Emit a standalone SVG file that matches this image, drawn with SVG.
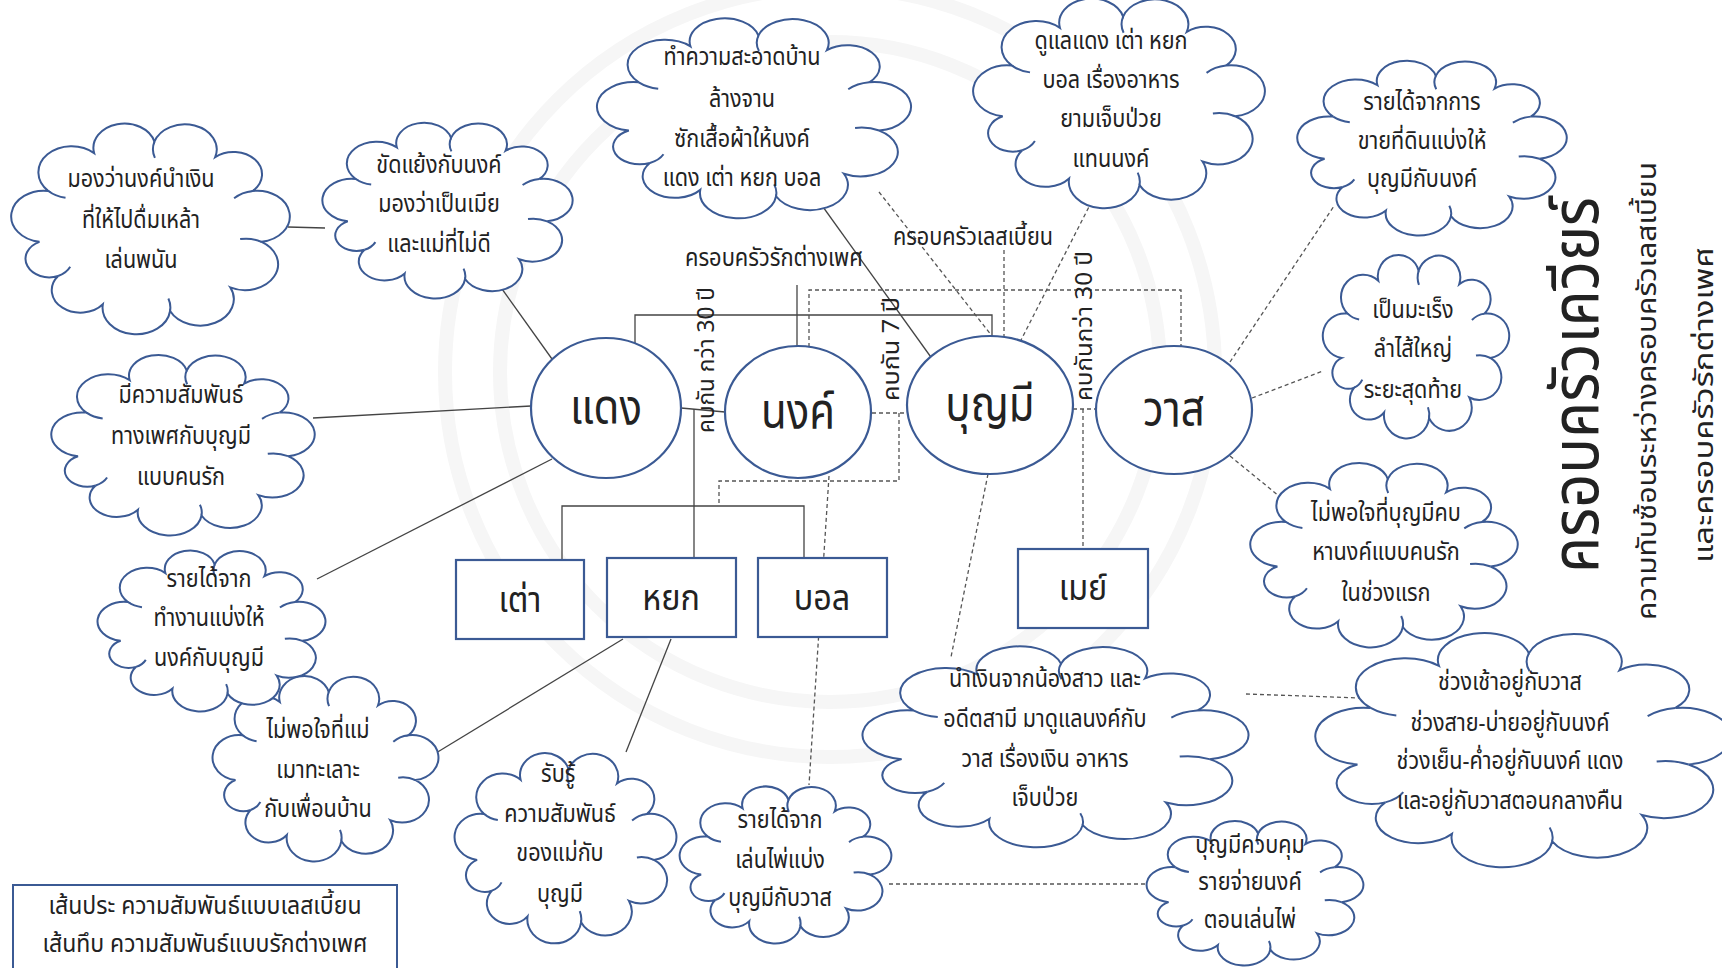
<svg xmlns="http://www.w3.org/2000/svg" width="1722" height="968" viewBox="0 0 1722 968">
<style>
.cl{fill:#fff;stroke:#3b5a94;stroke-width:2}
.ci{fill:none;stroke:#3b5a94;stroke-width:2}
.nd{fill:#fff;stroke:#3b5a94;stroke-width:2.2}
.t{font-family:"Noto Sans Thai","Loma","Garuda","Noto Sans","DejaVu Sans",sans-serif;fill:#222;text-anchor:middle}
.s{font-size:24px}
.b{font-size:50px}
.r{font-size:36px}
.ln{fill:none;stroke:#444;stroke-width:1.3}
.ds{fill:none;stroke:#555;stroke-width:1.3;stroke-dasharray:4 3}
.wm{fill:none;stroke:#f6f6f6;stroke-width:14}
</style>
<defs>
<path id="cloud" vector-effect="non-scaling-stroke" d="M9.62 56.86 A11.88 11.88 0 0 1 12.84 33.31 A12.09 12.09 0 0 1 29.5 15.79 A11.28 11.28 0 0 1 51.43 10.52 A11.6 11.6 0 0 1 73.52 17.64 A10.39 10.39 0 0 1 87.16 33.31 A11.88 11.88 0 0 1 90.38 56.86 A11.98 11.98 0 0 1 78.99 77.93 A12.23 12.23 0 0 1 57.12 88.9 A12.32 12.32 0 0 1 32.67 85.8 A10.45 10.45 0 0 1 16.41 72.66 A8.6 8.6 0 0 1 9.62 56.86 Z"/>
<path id="cloudIn" vector-effect="non-scaling-stroke" d="M90.38 56.86 A11.98 11.98 0 0 0 82.6 55.6 M57.12 88.9 A12.32 12.32 0 0 0 56.5 83.1 M16.41 72.66 A8.6 8.6 0 0 0 20.8 68.4 M51.43 10.52 A11.6 11.6 0 0 0 51.6 18 M12.84 33.31 A12.09 12.09 0 0 0 19.1 36.45 M87.16 33.31 A11.88 11.88 0 0 0 80.4 36.7"/>
</defs>
<rect width="1722" height="968" fill="#fff"/>
<g id="watermark">
<circle class="wm" cx="830" cy="372" r="385"/>
<circle class="wm" cx="830" cy="372" r="330" stroke-width="5"/>
</g>
<g id="connectors">
<line class="ln" x1="288" y1="227" x2="325" y2="228"/>
<line class="ln" x1="492" y1="275" x2="552" y2="359"/>
<line class="ln" x1="313" y1="418" x2="531" y2="406"/>
<line class="ln" x1="317" y1="579" x2="552" y2="459"/>
<line class="ln" x1="623" y1="639" x2="436" y2="753"/>
<line class="ln" x1="671" y1="639" x2="626" y2="752"/>
<line class="ln" x1="813" y1="193" x2="933" y2="360"/>
<polyline class="ln" points="635,344 635,315 992,315 992,336"/>
<line class="ln" x1="797" y1="285" x2="797" y2="346"/>
<line class="ln" x1="681" y1="408" x2="725" y2="412"/>
<line class="ln" x1="694" y1="409" x2="694" y2="558"/>
<polyline class="ln" points="562,560 562,506 804,506 804,558"/>
<polyline class="ds" points="809,347 809,290 1181,290 1181,347"/>
<line class="ds" x1="879" y1="192" x2="992" y2="336"/>
<line class="ds" x1="1095" y1="195" x2="1019" y2="344"/>
<line class="ds" x1="1004" y1="250" x2="1004" y2="337"/>
<line class="ds" x1="872" y1="413" x2="907" y2="413"/>
<polyline class="ds" points="899,413 899,481 719,481 719,506"/>
<line class="ds" x1="1073" y1="409" x2="1096" y2="409"/>
<line class="ds" x1="1083" y1="409" x2="1083" y2="549"/>
<line class="ds" x1="829" y1="476" x2="809" y2="785"/>
<line class="ds" x1="988" y1="474" x2="951" y2="657"/>
<line class="ds" x1="1230" y1="362" x2="1334" y2="206"/>
<line class="ds" x1="1252" y1="398" x2="1323" y2="371"/>
<line class="ds" x1="1230" y1="456" x2="1290" y2="505"/>
<line class="ds" x1="1246" y1="694" x2="1360" y2="698"/>
<line class="ds" x1="889" y1="884" x2="1148" y2="884"/>
</g>
<g id="labels" class="t">
<text x="774" y="266" style="font-size:24px" textLength="178" lengthAdjust="spacingAndGlyphs">ครอบครัวรักต่างเพศ</text>
<text x="973" y="245" style="font-size:24px" textLength="160" lengthAdjust="spacingAndGlyphs">ครอบครัวเลสเบี้ยน</text>
<text transform="translate(714 360) rotate(-90)" style="font-size:23px" textLength="146" lengthAdjust="spacingAndGlyphs" x="-73" text-anchor="start">คบกัน กว่า 30 ปี</text>
<text transform="translate(899 349) rotate(-90)" style="font-size:23px" textLength="104" lengthAdjust="spacingAndGlyphs" x="-52" text-anchor="start">คบกัน 7 ปี</text>
<text transform="translate(1092 326) rotate(-90)" style="font-size:23px" textLength="150" lengthAdjust="spacingAndGlyphs" x="-75" text-anchor="start">คบกันกว่า 30 ปี</text>
</g>
<g id="title" class="t">
<text transform="translate(1598 385) rotate(-90)" style="font-size:66px" x="-188" text-anchor="start" textLength="376" lengthAdjust="spacingAndGlyphs">ครอบครัวเควียร์</text>
<text transform="translate(1656 391) rotate(-90)" style="font-size:27px" x="-229" text-anchor="start" textLength="458" lengthAdjust="spacingAndGlyphs">ความทับซ้อนระหว่างครอบครัวเลสเบี้ยน</text>
<text transform="translate(1713 405) rotate(-90)" style="font-size:27px" x="-158" text-anchor="start" textLength="316" lengthAdjust="spacingAndGlyphs">และครอบครัวรักต่างเพศ</text>
</g>
<g id="node-daeng"><ellipse class="nd" cx="606" cy="408" rx="75" ry="70"/><text class="t b" transform="matrix(0.84 0 0 1 97 0)" x="606" y="424">แดง</text></g>
<g id="node-nong"><ellipse class="nd" cx="798" cy="412" rx="73" ry="66"/><text class="t b" transform="matrix(0.84 0 0 1 127.7 0)" x="798" y="428">นงค์</text></g>
<g id="node-boonmee"><ellipse class="nd" cx="990" cy="405" rx="83" ry="69"/><text class="t b" transform="matrix(0.84 0 0 1 158.4 0)" x="990" y="421">บุญมี</text></g>
<g id="node-was"><ellipse class="nd" cx="1174" cy="410" rx="78" ry="64"/><text class="t b" transform="matrix(0.84 0 0 1 187.8 0)" x="1174" y="426">วาส</text></g>
<g id="node-tao"><rect class="nd" x="456" y="560" width="128" height="79"/><text class="t r" transform="matrix(0.9 0 0 1 52 0)" x="520" y="612">เต่า</text></g>
<g id="node-yok"><rect class="nd" x="607" y="558" width="129" height="79"/><text class="t r" transform="matrix(0.9 0 0 1 67.1 0)" x="671" y="610">หยก</text></g>
<g id="node-ball"><rect class="nd" x="758" y="558" width="129" height="79"/><text class="t r" transform="matrix(0.9 0 0 1 82.2 0)" x="822" y="610">บอล</text></g>
<g id="node-may"><rect class="nd" x="1018" y="549" width="130" height="79"/><text class="t r" transform="matrix(0.9 0 0 1 108.3 0)" x="1083" y="600">เมย์</text></g>
<g id="cloud1"><use href="#cloud" class="cl" transform="translate(13 119) scale(2.75 2.16)"/><use href="#cloudIn" class="ci" transform="translate(13 119) scale(2.75 2.16)"/>
<text class="t s" transform="matrix(0.9 0 0 1 14.1 0)"><tspan x="141" y="187">มองว่านงค์นำเงิน</tspan><tspan x="141" y="228">ที่ให้ไปดื่มเหล้า</tspan><tspan x="141" y="268">เล่นพนัน</tspan></text></g>
<g id="cloud2"><use href="#cloud" class="cl" transform="translate(324 119) scale(2.47 1.8)"/><use href="#cloudIn" class="ci" transform="translate(324 119) scale(2.47 1.8)"/>
<text class="t s" transform="matrix(0.9 0 0 1 43.9 0)"><tspan x="439" y="173">ขัดแย้งกับนงค์</tspan><tspan x="439" y="212">มองว่าเป็นเมีย</tspan><tspan x="439" y="252">และแม่ที่ไม่ดี</tspan></text></g>
<g id="cloud3"><use href="#cloud" class="cl" transform="translate(599 14) scale(3.1 2.05)"/><use href="#cloudIn" class="ci" transform="translate(599 14) scale(3.1 2.05)"/>
<text class="t s" transform="matrix(0.9 0 0 1 74.2 0)"><tspan x="742" y="65">ทำความสะอาดบ้าน</tspan><tspan x="742" y="107">ล้างจาน</tspan><tspan x="742" y="147">ซักเสื้อผ้าให้นงค์</tspan><tspan x="742" y="186">แดง เต่า หยก บอล</tspan></text></g>
<g id="cloud4"><use href="#cloud" class="cl" transform="translate(975 -6) scale(2.88 2.15)"/><use href="#cloudIn" class="ci" transform="translate(975 -6) scale(2.88 2.15)"/>
<text class="t s" transform="matrix(0.9 0 0 1 111.1 0)"><tspan x="1111" y="49">ดูแลแดง เต่า หยก</tspan><tspan x="1111" y="88">บอล เรื่องอาหาร</tspan><tspan x="1111" y="127">ยามเจ็บป่วย</tspan><tspan x="1111" y="167">แทนนงค์</tspan></text></g>
<g id="cloud5"><use href="#cloud" class="cl" transform="translate(1299 57) scale(2.66 1.79)"/><use href="#cloudIn" class="ci" transform="translate(1299 57) scale(2.66 1.79)"/>
<text class="t s" transform="matrix(0.9 0 0 1 142.2 0)"><tspan x="1422" y="110">รายได้จากการ</tspan><tspan x="1422" y="149">ขายที่ดินแบ่งให้</tspan><tspan x="1422" y="187">บุญมีกับนงค์</tspan></text></g>
<g id="cloud6"><use href="#cloud" class="cl" transform="translate(1324 251) scale(1.84 1.88)"/><use href="#cloudIn" class="ci" transform="translate(1324 251) scale(1.84 1.88)"/>
<text class="t s" transform="matrix(0.9 0 0 1 141.3 0)"><tspan x="1413" y="318">เป็นมะเร็ง</tspan><tspan x="1413" y="357">ลำไส้ใหญ่</tspan><tspan x="1413" y="398">ระยะสุดท้าย</tspan></text></g>
<g id="cloud7"><use href="#cloud" class="cl" transform="translate(1252 459) scale(2.64 1.89)"/><use href="#cloudIn" class="ci" transform="translate(1252 459) scale(2.64 1.89)"/>
<text class="t s" transform="matrix(0.9 0 0 1 138.6 0)"><tspan x="1386" y="521">ไม่พอใจที่บุญมีคบ</tspan><tspan x="1386" y="560">หานงค์แบบคนรัก</tspan><tspan x="1386" y="601">ในช่วงแรก</tspan></text></g>
<g id="cloud8"><use href="#cloud" class="cl" transform="translate(1318 628) scale(4.1 2.4)"/><use href="#cloudIn" class="ci" transform="translate(1318 628) scale(4.1 2.4)"/>
<text class="t s" transform="matrix(0.9 0 0 1 151 0)"><tspan x="1510" y="690">ช่วงเช้าอยู่กับวาส</tspan><tspan x="1510" y="731">ช่วงสาย-บ่ายอยู่กับนงค์</tspan><tspan x="1510" y="769">ช่วงเย็น-ค่ำอยู่กับนงค์ แดง</tspan><tspan x="1510" y="809">และอยู่กับวาสตอนกลางคืน</tspan></text></g>
<g id="cloud9"><use href="#cloud" class="cl" transform="translate(865 642) scale(3.81 2.06)"/><use href="#cloudIn" class="ci" transform="translate(865 642) scale(3.81 2.06)"/>
<text class="t s" transform="matrix(0.9 0 0 1 104.5 0)"><tspan x="1045" y="687">นำเงินจากน้องสาว และ</tspan><tspan x="1045" y="727">อดีตสามี มาดูแลนงค์กับ</tspan><tspan x="1045" y="767">วาส  เรื่องเงิน อาหาร</tspan><tspan x="1045" y="806">เจ็บป่วย</tspan></text></g>
<g id="cloud10"><use href="#cloud" class="cl" transform="translate(1148 818) scale(2.14 1.48)"/><use href="#cloudIn" class="ci" transform="translate(1148 818) scale(2.14 1.48)"/>
<text class="t s" transform="matrix(0.9 0 0 1 125 0)"><tspan x="1250" y="853">บุญมีควบคุม</tspan><tspan x="1250" y="890">รายจ่ายนงค์</tspan><tspan x="1250" y="928">ตอนเล่นไพ่</tspan></text></g>
<g id="cloud11"><use href="#cloud" class="cl" transform="translate(681 783) scale(2.09 1.61)"/><use href="#cloudIn" class="ci" transform="translate(681 783) scale(2.09 1.61)"/>
<text class="t s" transform="matrix(0.9 0 0 1 78 0)"><tspan x="780" y="828">รายได้จาก</tspan><tspan x="780" y="868">เล่นไพ่แบ่ง</tspan><tspan x="780" y="906">บุญมีกับวาส</tspan></text></g>
<g id="cloud12"><use href="#cloud" class="cl" transform="translate(456 749) scale(2.19 1.95)"/><use href="#cloudIn" class="ci" transform="translate(456 749) scale(2.19 1.95)"/>
<text class="t s" transform="matrix(0.9 0 0 1 56 0)"><tspan x="558" y="782">รับรู้</tspan><tspan x="560" y="822">ความสัมพันธ์</tspan><tspan x="560" y="861">ของแม่กับ</tspan><tspan x="560" y="902">บุญมี</tspan></text></g>
<g id="cloud13"><use href="#cloud" class="cl" transform="translate(214 672) scale(2.23 1.9)"/><use href="#cloudIn" class="ci" transform="translate(214 672) scale(2.23 1.9)"/>
<text class="t s" transform="matrix(0.9 0 0 1 31.8 0)"><tspan x="318" y="738">ไม่พอใจที่แม่</tspan><tspan x="318" y="778">เมาทะเลาะ</tspan><tspan x="318" y="817">กับเพื่อนบ้าน</tspan></text></g>
<g id="cloud14"><use href="#cloud" class="cl" transform="translate(99 547) scale(2.25 1.65)"/><use href="#cloudIn" class="ci" transform="translate(99 547) scale(2.25 1.65)"/>
<text class="t s" transform="matrix(0.9 0 0 1 20.9 0)"><tspan x="209" y="587">รายได้จาก</tspan><tspan x="209" y="626">ทำงานแบ่งให้</tspan><tspan x="209" y="666">นงค์กับบุญมี</tspan></text></g>
<g id="cloud15"><use href="#cloud" class="cl" transform="translate(53 351) scale(2.6 1.85)"/><use href="#cloudIn" class="ci" transform="translate(53 351) scale(2.6 1.85)"/>
<text class="t s" transform="matrix(0.9 0 0 1 18.1 0)"><tspan x="181" y="403">มีความสัมพันธ์</tspan><tspan x="181" y="444">ทางเพศกับบุญมี</tspan><tspan x="181" y="485">แบบคนรัก</tspan></text></g>
<g id="legend"><rect x="13" y="885" width="384" height="90" fill="#fff" stroke="#3b5a94" stroke-width="2"/>
<text class="t" style="font-size:25px" transform="matrix(0.92 0 0 1 16.4 0)"><tspan x="205" y="914">เส้นประ ความสัมพันธ์แบบเลสเบี้ยน</tspan><tspan x="205" y="952">เส้นทึบ ความสัมพันธ์แบบรักต่างเพศ</tspan></text></g>
</svg>
